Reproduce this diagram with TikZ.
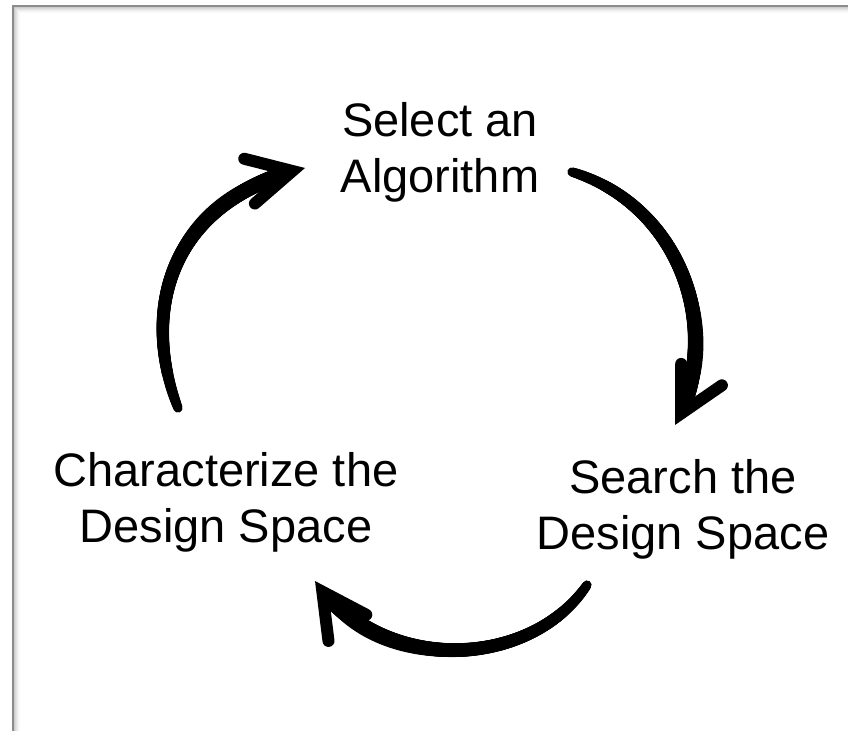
\documentclass[tikz,border=0pt]{standalone}
\usepackage{fontspec}
\setmainfont{Liberation Sans}
\usetikzlibrary{arrows.meta, positioning, decorations.markings}

\begin{document}
\begin{tikzpicture}[
    x=1pt, y=-1pt,
    stage/.style={align=center, inner sep=0pt, font=\fontsize{47}{56}\selectfont},
    % shaft gets thicker towards the head
    swell/.style={decoration={markings, mark=between positions 0 and -28pt step 1pt with {
        \pgfmathsetmacro\r{4.5+3.5*sqrt(\pgfkeysvalueof{/pgf/decoration/mark info/distance from start}/\pgfdecoratedpathlength)}
        \fill (0,0) circle (\r pt);}}, decorate},
    flow/.style={-{Straight Barb[length=44pt, width=46pt, line width'=12pt, line cap=round]},
        line width=9pt, line cap=round, postaction={swell}},
    frame/.style={line width=1.3pt, black!45}
]
\useasboundingbox (0,0) rectangle (848,731);

% frame and its soft shadow
\foreach \d/\c in {1/20,2/15,3/11,4/7,5/4,6/2}
    \draw[black!\c, line width=1pt] ({13+\d},731) -- ({13+\d},{6+\d}) -- (848,{6+\d});
\draw[frame] (13,731) -- (13,6) -- (848,6);

\node[stage] (sel) at (440,152) {Select an\\Algorithm};
\node[stage] (char) at (226,502) {Characterize the\\Design Space};
\node[stage] (srch) at (683,509) {Search the\\Design Space};

% free ends of the arrows
\coordinate (ch-out) at (178,408);
\coordinate (se-in) at (305,168);
\coordinate (se-out) at (572,172);
\coordinate (sr-in) at (675,425);
\coordinate (sr-out) at (587,585);
\coordinate (ch-in) at (315,581);

\draw[flow] (ch-out) .. controls (140,310) and (170,200) .. (se-in);
\draw[flow] (se-out) .. controls (680,205) and (725,330) .. (sr-in);
\draw[flow] (sr-out) .. controls (530,670) and (380,675) .. (ch-in);
\end{tikzpicture}
\end{document}
